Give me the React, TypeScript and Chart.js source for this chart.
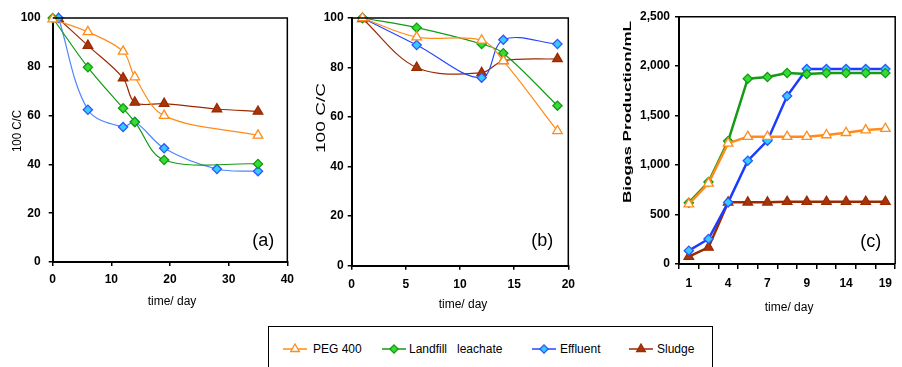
import React, { useEffect, useRef } from "react";
import { Chart, registerables } from "chart.js";

Chart.register(...registerables);

const FONT = '"Liberation Sans", Arial, Helvetica, sans-serif';

// ---------- Panel (a) ----------
const A_PEG_X = [0, 6, 12, 14, 19, 35];
const A_PEG_Y = [99.5, 94.3, 86.3, 75.8, 60.0, 51.9];
const A_LEACH_X = [0, 6, 12, 14, 19, 35];
const A_LEACH_Y = [100, 79.8, 63.0, 57.4, 41.8, 40.2];
const A_EFF_X = [1, 6, 12, 14, 19, 28, 35];
const A_EFF_Y = [100, 62.4, 55.3, 57.4, 46.6, 38.1, 37.2];
const A_SLUDGE_X = [1, 6, 12, 14, 19, 28, 35];
const A_SLUDGE_Y = [99.7, 88.7, 75.4, 65.4, 64.9, 62.7, 61.7];

// ---------- Panel (b) ----------
const B_X = [1, 6, 12, 14, 19];
const B_PEG = [100, 92.3, 91.0, 82.7, 54.4];
const B_LEACH = [100, 96.1, 89.5, 85.8, 64.6];
const B_EFF = [100, 89.1, 75.9, 91.2, 89.5];
const B_SLUDGE = [99.7, 80.0, 77.9, 82.7, 83.5];

// ---------- Panel (c) ----------
const C_DAYS = ["1", "2", "4", "5", "7", "8", "9", "12", "14", "17", "19"];
const C_PEG = [606, 815, 1220, 1287, 1287, 1287, 1287, 1304, 1327, 1354, 1368];
const C_LEACH = [620, 829, 1243, 1873, 1890, 1931, 1920, 1931, 1931, 1931, 1931];
const C_EFF = [135, 253, 623, 1044, 1247, 1698, 1971, 1971, 1971, 1971, 1971];
const C_SLUDGE = [74, 168, 623, 623, 623, 630, 630, 630, 630, 630, 630];

const SERIES_NAMES = ["PEG 400", "Landfill   leachate", "Effluent", "Sludge"];

const STYLES = [
  { line: "#ff8c1a", fill: "#ffffff", edge: "#ff8c1a", shape: "triangle", r: 5.5 },
  { line: "#149a14", fill: "#33dd33", edge: "#149a14", shape: "rectRot", r: 4.6 },
  { line: "#2347ff", fill: "#33ccff", edge: "#2f55ff", shape: "rectRot", r: 4.6 },
  { line: "#9b2a00", fill: "#a8360c", edge: "#9b2a00", shape: "triangle", r: 5.5 },
];

function ds(i: number, data: any[], lw: number, tension: number, lineColor?: string) {
  const s = STYLES[i];
  return {
    label: SERIES_NAMES[i],
    data,
    borderColor: lineColor || s.line,
    borderWidth: lw,
    backgroundColor: s.fill,
    pointStyle: s.shape,
    pointRadius: s.r,
    pointBackgroundColor: s.fill,
    pointBorderColor: s.edge,
    pointBorderWidth: 1.3,
    tension,
    clip: false,
    fill: false,
  };
}

const xy = (xs: number[], ys: number[]) => xs.map((x, i) => ({ x, y: ys[i] }));

const framePlugin = {
  id: "frame",
  afterDraw(chart: any, _args: any, opts: any) {
    const { ctx, chartArea: a } = chart;
    ctx.save();
    ctx.strokeStyle = "#000";
    ctx.lineWidth = 1.5;
    ctx.beginPath();
    ctx.moveTo(a.left, a.top);
    ctx.lineTo(a.right, a.top);
    ctx.lineTo(a.right, a.bottom);
    ctx.stroke();
    ctx.fillStyle = "#000";
    if (opts.tag) {
      ctx.font = `18px ${FONT}`;
      ctx.textAlign = "right";
      ctx.textBaseline = "middle";
      ctx.fillText(opts.tag, a.right - opts.tagDx, a.bottom - opts.tagDy);
    }
    if (opts.xTitle) {
      ctx.font = opts.xFont;
      ctx.textAlign = "center";
      ctx.textBaseline = "middle";
      ctx.fillText(opts.xTitle, (a.left + a.right) / 2 + (opts.xDx || 0), opts.xY);
    }
    if (opts.yTitle) {
      ctx.font = opts.yFont;
      ctx.translate(opts.yX, opts.yY);
      ctx.rotate(-Math.PI / 2);
      const w = ctx.measureText(opts.yTitle).width;
      ctx.scale(opts.yLen / w, 1);
      ctx.textAlign = "center";
      ctx.textBaseline = "middle";
      ctx.fillText(opts.yTitle, 0, 0);
    }
    ctx.restore();
  },
};

function axisBase(padding: number, tickLen: number) {
  return {
    grid: {
      display: true,
      drawOnChartArea: false,
      drawTicks: true,
      tickLength: tickLen,
      color: "#000",
      lineWidth: 1.5,
    },
    border: { display: true, color: "#000", width: 2 },
    ticks: {
      color: "#000",
      font: { family: FONT, size: 12, weight: "bold" as const },
      padding,
    },
  };
}

function linearPanel(
  datasets: any[],
  xMax: number,
  xStep: number,
  yW: number,
  xH: number,
  pad: any,
  yPad: number,
  xPad: number,
  plugin: any
) {
  const xb = axisBase(xPad, 4);
  const yb = axisBase(yPad, 4);
  return {
    type: "line" as const,
    data: { datasets },
    options: {
      animation: false as const,
      responsive: false,
      layout: { padding: pad },
      plugins: { legend: { display: false }, tooltip: { enabled: false }, frame: plugin },
      scales: {
        x: {
          type: "linear" as const,
          min: 0,
          max: xMax,
          ...xb,
          ticks: { ...xb.ticks, stepSize: xStep, maxRotation: 0 },
          afterFit: (s: any) => {
            s.height = xH;
          },
        },
        y: {
          type: "linear" as const,
          min: 0,
          max: 100,
          ...yb,
          ticks: { ...yb.ticks, stepSize: 20 },
          afterFit: (s: any) => {
            s.width = yW;
          },
        },
      },
    },
    plugins: [framePlugin],
  };
}

const configA = () =>
  linearPanel(
    [
      ds(0, xy(A_PEG_X, A_PEG_Y), 1.2, 0.35),
      ds(1, xy(A_LEACH_X, A_LEACH_Y), 1.2, 0.35),
      ds(2, xy(A_EFF_X, A_EFF_Y), 1.2, 0.35, "#4f86ff"),
      ds(3, xy(A_SLUDGE_X, A_SLUDGE_Y), 1.2, 0.35),
    ],
    40,
    10,
    52.7,
    58,
    { top: 18, right: 10, left: 0, bottom: 0 },
    8,
    6,
    {
      tag: "(a)",
      tagDx: 13,
      tagDy: 21,
      xTitle: "time/ day",
      xFont: `12px ${FONT}`,
      xY: 302,
      xDx: 2,
      yTitle: "100 C/C",
      yFont: `12px ${FONT}`,
      yX: 18,
      yY: 131,
      yLen: 42,
    }
  );

const configB = () =>
  linearPanel(
    [
      ds(0, xy(B_X, B_PEG), 1.2, 0.35),
      ds(1, xy(B_X, B_LEACH), 1.2, 0.35),
      ds(2, xy(B_X, B_EFF), 1.2, 0.35),
      ds(3, xy(B_X, B_SLUDGE), 1.2, 0.35),
    ],
    20,
    5,
    51.7,
    54.3,
    { top: 18, right: 31.7, left: 0, bottom: 0 },
    4,
    8,
    {
      tag: "(b)",
      tagDx: 15,
      tagDy: 25,
      xTitle: "time/ day",
      xFont: `12px ${FONT}`,
      xY: 305,
      xDx: 3,
      yTitle: "100 C/C",
      yFont: `12px ${FONT}`,
      yX: 22,
      yY: 118,
      yLen: 70,
    }
  );

const configC = () => {
  const xb = axisBase(7, 5);
  const yb = axisBase(5, 4);
  return {
    type: "line" as const,
    data: {
      labels: C_DAYS,
      datasets: [
        ds(0, C_PEG, 2.5, 0),
        ds(1, C_LEACH, 2.5, 0),
        ds(2, C_EFF, 2.5, 0, "#1a3cff"),
        ds(3, C_SLUDGE, 2.5, 0),
      ],
    },
    options: {
      animation: false as const,
      responsive: false,
      layout: { padding: { top: 16.7, right: 1, left: 0, bottom: 0 } },
      plugins: {
        legend: { display: false },
        tooltip: { enabled: false },
        frame: {
          tag: "(c)",
          tagDx: 14,
          tagDy: 22,
          xTitle: "time/ day",
          xFont: `12px ${FONT}`,
          xY: 308,
          xDx: 2,
          yTitle: "Biogas Production/mL",
          yFont: `bold 11px ${FONT}`,
          yX: 28,
          yY: 112,
          yLen: 182,
        },
      },
      scales: {
        x: {
          type: "category" as const,
          offset: true,
          ...xb,
          grid: { ...xb.grid, offset: true },
          ticks: {
            ...xb.ticks,
            autoSkip: false,
            maxRotation: 0,
            callback: (_v: any, i: number) => (i % 2 === 0 ? C_DAYS[i] : ""),
          },
          afterFit: (s: any) => {
            s.height = 56;
          },
        },
        y: {
          type: "linear" as const,
          min: 0,
          max: 2500,
          ...yb,
          ticks: {
            ...yb.ticks,
            stepSize: 500,
            callback: (v: any) => Number(v).toLocaleString("en-US"),
          },
          afterFit: (s: any) => {
            s.width = 79;
          },
        },
      },
    },
    plugins: [framePlugin],
  };
};

function Panel(props: { left: number; top: number; width: number; height: number; make: () => any }) {
  const ref = useRef<HTMLCanvasElement>(null);
  useEffect(() => {
    const chart = new Chart(ref.current as HTMLCanvasElement, props.make());
    return () => chart.destroy();
  }, []);
  return (
    <div style={{ position: "absolute", left: props.left, top: props.top, width: props.width, height: props.height }}>
      <canvas ref={ref} width={props.width} height={props.height} style={{ width: props.width, height: props.height, display: "block" }} />
    </div>
  );
}

function Symbol({ i }: { i: number }) {
  const s = STYLES[i];
  const cx = 12;
  const cy = 6;
  const r = s.r - 0.5;
  let shape;
  if (s.shape === "triangle") {
    const h = r;
    const pts = `${cx},${cy - h} ${cx + h * 0.866},${cy + h * 0.5} ${cx - h * 0.866},${cy + h * 0.5}`;
    shape = <polygon points={pts} fill={s.fill} stroke={s.edge} strokeWidth={1.3} />;
  } else {
    const pts = `${cx - r},${cy} ${cx},${cy - r} ${cx + r},${cy} ${cx},${cy + r}`;
    shape = <polygon points={pts} fill={s.fill} stroke={s.edge} strokeWidth={1.3} />;
  }
  return (
    <svg width={24} height={12} style={{ display: "block" }}>
      <line x1={0} y1={cy} x2={24} y2={cy} stroke={s.line} strokeWidth={1.5} />
      {shape}
    </svg>
  );
}

const LEGEND_POS = [
  { sym: 283, text: 313 },
  { sym: 382, text: 409 },
  { sym: 532, text: 560 },
  { sym: 629, text: 657 },
];

export default function App() {
  return (
    <div style={{ position: "fixed", left: 0, top: 0, width: 902, height: 367, background: "#fff", overflow: "hidden" }}>
      <Panel left={0} top={0} width={300} height={320} make={configA} />
      <Panel left={300} top={0} width={300} height={320} make={configB} />
      <Panel left={600} top={0} width={302} height={320} make={configC} />
      <div
        style={{
          position: "absolute",
          left: 268,
          top: 326,
          width: 445,
          height: 60,
          border: "1.5px solid #000",
          boxSizing: "border-box",
        }}
      />
      {SERIES_NAMES.map((name, i) => (
        <React.Fragment key={name}>
          <div style={{ position: "absolute", left: LEGEND_POS[i].sym, top: 343 }}>
            <Symbol i={i} />
          </div>
          <div
            style={{
              position: "absolute",
              left: LEGEND_POS[i].text,
              top: 341,
              font: `12px ${FONT}`,
              lineHeight: "16px",
              whiteSpace: "pre",
              color: "#000",
            }}
          >
            {name}
          </div>
        </React.Fragment>
      ))}
    </div>
  );
}
